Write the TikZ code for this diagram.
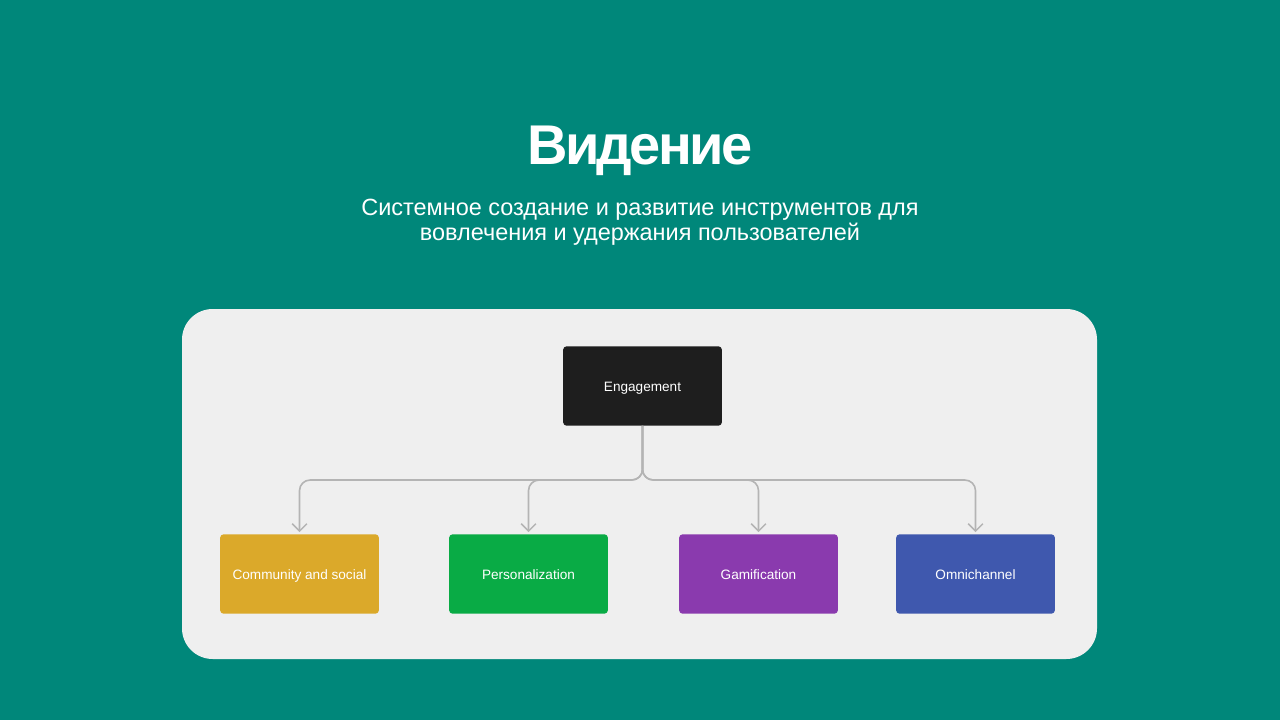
\documentclass[tikz,border=0pt]{standalone}
\usepackage{fontspec}
\setmainfont{Liberation Sans}
\newfontfamily\titlefont[LetterSpace=-4.5]{Liberation Sans}
\usetikzlibrary{arrows.meta}
\definecolor{bgteal}{HTML}{00877A}
\definecolor{panelgray}{HTML}{EFEFEF}
\definecolor{engblack}{HTML}{1E1E1E}
\definecolor{cyellow}{HTML}{DBA92A}
\definecolor{cgreen}{HTML}{09AB45}
\definecolor{cpurple}{HTML}{8A3AAE}
\definecolor{cblue}{HTML}{3F58AE}
\definecolor{linegray}{HTML}{B4B4B4}
\tikzset{
  box/.style={rectangle, rounded corners=2.5pt, minimum width=119pt, minimum height=59.5pt,
    inner sep=0pt, text=white, font=\fontsize{10.2pt}{12pt}\selectfont},
  boxlabel/.style={text=white, font=\fontsize{10.2pt}{12pt}\selectfont, inner sep=0pt},
  conn/.style={draw=linegray, line width=1.2pt, rounded corners=8pt,
    -{Straight Barb[length=5.5pt,width=11pt,line width=1.1pt]}}
}
\begin{document}
\begin{tikzpicture}[x=0.75pt,y=-0.75pt]
\fill[bgteal] (0,0) rectangle (1280,720);
\useasboundingbox (0,0) rectangle (1280,720);
\fill[panelgray, rounded corners=23pt] (182,309) rectangle (1097,659);
\node[anchor=base, text=white, font=\titlefont\bfseries\fontsize{42pt}{48pt}\selectfont] (title) at (640,165) {Видение};
\node[anchor=base, text=white, font=\fontsize{17.6pt}{20pt}\selectfont] (sub1) at (640,216) {Системное создание и развитие инструментов для};
\node[anchor=base, text=white, font=\fontsize{17.6pt}{20pt}\selectfont] (sub2) at (640,241) {вовлечения и удержания пользователей};
\node[box, fill=engblack] (eng) at (642.5,386) {};
\node[box, fill=cyellow] (c1) at (299.5,574) {};
\node[box, fill=cgreen] (c2) at (528.5,574) {};
\node[box, fill=cpurple] (c3) at (758.5,574) {};
\node[box, fill=cblue] (c4) at (975.5,574) {};
\node[boxlabel, anchor=base] (l0) at (642.5,391) {Engagement};
\node[boxlabel, anchor=base] (l1) at (299.5,579) {Community and social};
\node[boxlabel, anchor=base] (l2) at (528.5,579) {Personalization};
\node[boxlabel, anchor=base] (l3) at (758.5,579) {Gamification};
\node[boxlabel, anchor=base] (l4) at (975.5,579) {Omnichannel};
\foreach \t in {c1,c2,c3,c4}{
  \draw[conn] (eng.south) -- (eng.south |- 0,480) -| ([yshift=1.5pt]\t.north);
}
\end{tikzpicture}
\end{document}
